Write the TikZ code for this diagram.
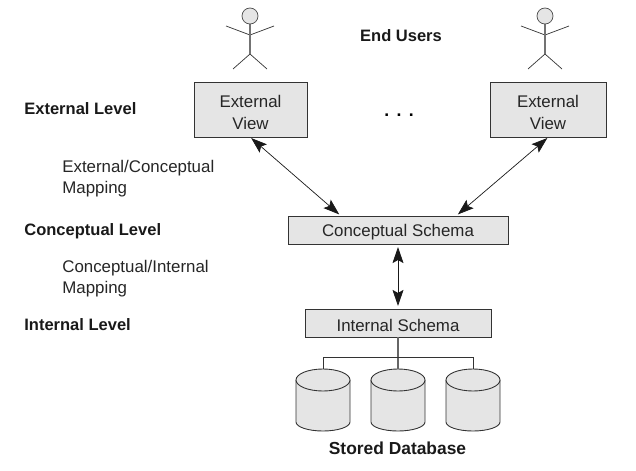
\documentclass[tikz,border=0pt]{standalone}
\usepackage{fontspec}
\setmainfont{Liberation Sans}
\usetikzlibrary{arrows.meta,positioning,calc}
\definecolor{boxgray}{gray}{0.90}
\newcommand{\toplift}[1]{\rule{0pt}{#1pt}}
\tikzset{
  blk/.style={draw=black!80,fill=boxgray,line width=0.5pt,inner sep=0pt,font=\fontsize{9.6}{12.4}\selectfont,align=center,text=black!85},
  ar/.style={{Stealth[length=3.2mm,width=2.2mm,inset=0.6mm]}-{Stealth[length=3.2mm,width=2.2mm,inset=0.6mm]},line width=0.4pt,black!90},
  lbl/.style={font=\fontsize{9.6}{12}\selectfont,align=left,anchor=west,inner sep=0pt,text=black!85},
  hd/.style={font=\fontsize{9.4}{11}\selectfont\bfseries,inner sep=0pt,text=black!90},
  pics/stickman/.style={code={
    \draw[black!80,line width=0.4pt] (-0.48,-0.2) -- (0,-0.38) -- (0.48,-0.2);
    \draw[black!80,line width=0.4pt] (-0.34,-1.06) -- (0,-0.76) -- (0.34,-1.06);
    \draw[black!55,line width=0.8pt] (0,-0.16) -- (0,-0.76);
    \draw[black!70,fill=boxgray,line width=0.4pt] (0,0) circle (0.16);
  }},
  pics/drum/.style={code={
    \draw[black!80,fill=boxgray,line width=0.5pt] (-0.54,0) -- (-0.54,-0.84) arc[start angle=180,end angle=360,x radius=0.54,y radius=0.18] -- (0.54,0);
    \draw[black!80,fill=boxgray,line width=0.5pt] (0,0) ellipse[x radius=0.54,y radius=0.22];
    \coordinate (-top) at (0,0.22);
  }}
}
\begin{document}
\begin{tikzpicture}
\useasboundingbox (0,0) rectangle (12.72,9.4);

% users on top of the two views
\pic at (5,9.08) {stickman};
\pic at (10.9,9.08) {stickman};
\node[hd] (users) at (8.02,8.68) {End Users};

\node[blk,minimum width=2.26cm,minimum height=1.1cm] (ev1) at (5.01,7.21) {\toplift{10.4}External\\View};
\node[blk,minimum width=2.32cm,minimum height=1.1cm] (ev2) at (10.96,7.21) {\toplift{10.4}External\\View};
\node[font=\fontsize{10}{12}\selectfont\bfseries] (dots) at (7.98,7.1) {.\hspace{0.42em}.\hspace{0.42em}.};
\node[blk,minimum width=4.4cm,minimum height=0.56cm] (cs) at (7.96,4.8) {\toplift{9.3}Conceptual Schema};
\node[blk,minimum width=3.72cm,minimum height=0.56cm] (is) at (7.96,2.94) {\toplift{9.3}Internal Schema};

% three drums under the internal schema
\pic (db1) at (6.46,1.8) {drum};
\pic (db2) at (7.96,1.8) {drum};
\pic (db3) at (9.46,1.8) {drum};
\node[hd,font=\fontsize{9.9}{11}\selectfont\bfseries] (sd) at (7.95,0.44) {Stored Database};

% level names and mappings down the left side
\node[hd,anchor=west] (el) at (0.48,7.23) {External Level};
\node[lbl] (ecm) at (1.24,5.82) {External/Conceptual\\Mapping};
\node[hd,anchor=west] (cl) at (0.48,4.78) {Conceptual Level};
\node[lbl] (cim) at (1.24,3.82) {Conceptual/Internal\\Mapping};
\node[hd,anchor=west] (il) at (0.48,2.9) {Internal Level};

\draw[ar,shorten <=0.5pt,shorten >=1pt] (ev1.south) -- ($(cs.north west)!0.24!(cs.north east)$);
\draw[ar,shorten <=0.5pt,shorten >=1pt] (ev2.south) -- ($(cs.north west)!0.765!(cs.north east)$);
\draw[ar,shorten <=1.5pt,shorten >=1.5pt] (cs) -- (is);

\draw[black!60,line width=0.8pt] (is) -- (db2-top);
\draw[black!80,line width=0.5pt] (db1-top) -- ++(0,0.24) -| (db3-top);
\end{tikzpicture}
\end{document}
